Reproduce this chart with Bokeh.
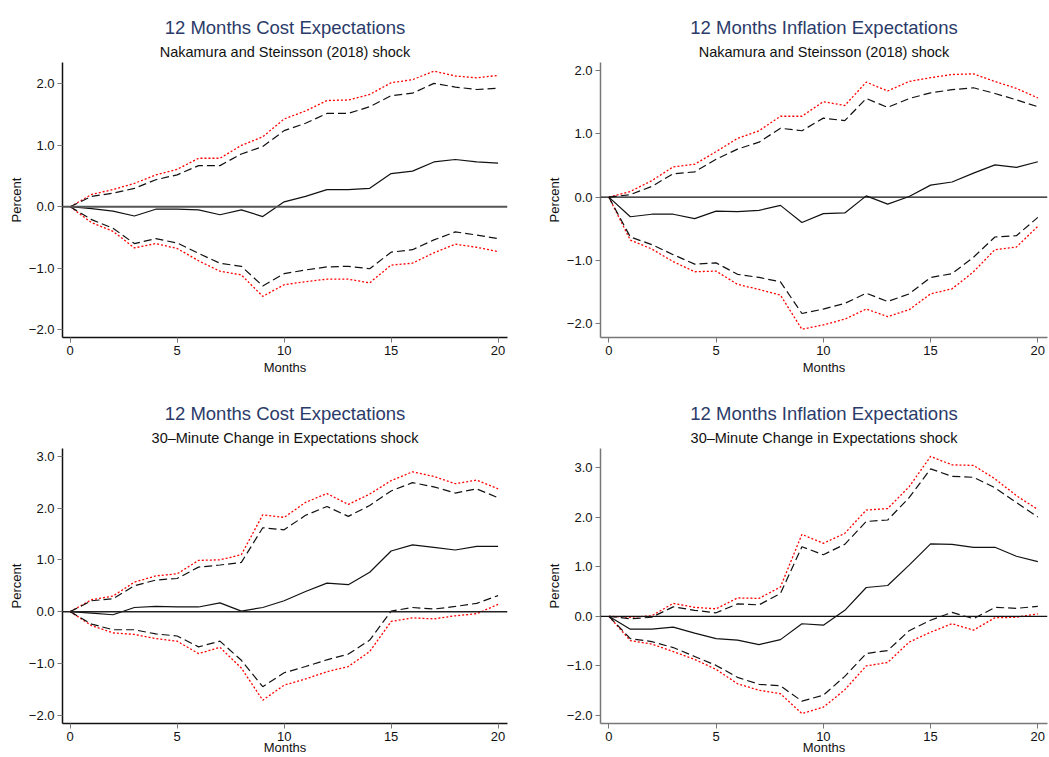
from bokeh.plotting import figure
from bokeh.layouts import gridplot
from bokeh.models import Range1d, FixedTicker, Span, Title
from bokeh.embed import file_html
from bokeh.resources import INLINE

months = list(range(21))

# --- 12 months cost expectations, Nakamura-Steinsson shock ---
cost_ns_irf = [0.0, -0.03, -0.07, -0.15, -0.04, -0.04, -0.05, -0.13, -0.05, -0.16, 0.08,
               0.17, 0.28, 0.28, 0.30, 0.54, 0.58, 0.73, 0.77, 0.73, 0.71]
cost_ns_hi68 = [0.0, 0.17, 0.22, 0.30, 0.44, 0.52, 0.67, 0.67, 0.86, 0.98, 1.24,
                1.36, 1.52, 1.52, 1.63, 1.81, 1.85, 2.01, 1.95, 1.91, 1.93]
cost_ns_lo68 = [0.0, -0.21, -0.35, -0.60, -0.52, -0.59, -0.76, -0.92, -0.97, -1.29, -1.09,
                -1.03, -0.98, -0.97, -1.01, -0.74, -0.70, -0.54, -0.41, -0.46, -0.52]
cost_ns_hi90 = [0.0, 0.20, 0.28, 0.38, 0.52, 0.61, 0.79, 0.79, 1.00, 1.14, 1.43,
                1.56, 1.73, 1.74, 1.83, 2.02, 2.07, 2.21, 2.13, 2.10, 2.14]
cost_ns_lo90 = [0.0, -0.26, -0.40, -0.67, -0.60, -0.68, -0.88, -1.05, -1.11, -1.46, -1.27,
                -1.22, -1.18, -1.18, -1.24, -0.95, -0.92, -0.75, -0.61, -0.66, -0.73]

# --- 12 months inflation expectations, Nakamura-Steinsson shock ---
infl_ns_irf = [0.0, -0.31, -0.27, -0.27, -0.34, -0.22, -0.23, -0.21, -0.13, -0.40, -0.26,
               -0.25, 0.02, -0.11, 0.01, 0.19, 0.24, 0.38, 0.51, 0.47, 0.56]
infl_ns_hi68 = [0.0, 0.04, 0.17, 0.37, 0.40, 0.60, 0.76, 0.87, 1.09, 1.05, 1.25,
                1.21, 1.56, 1.42, 1.56, 1.65, 1.70, 1.73, 1.64, 1.54, 1.43]
infl_ns_lo68 = [0.0, -0.63, -0.75, -0.91, -1.06, -1.04, -1.22, -1.27, -1.34, -1.84, -1.77,
                -1.68, -1.52, -1.65, -1.53, -1.27, -1.21, -0.95, -0.63, -0.61, -0.32]
infl_ns_hi90 = [0.0, 0.09, 0.26, 0.48, 0.52, 0.72, 0.93, 1.05, 1.28, 1.28, 1.51,
                1.45, 1.82, 1.68, 1.83, 1.89, 1.94, 1.95, 1.83, 1.72, 1.57]
infl_ns_lo90 = [0.0, -0.68, -0.82, -1.02, -1.18, -1.17, -1.38, -1.46, -1.55, -2.09, -2.02,
                -1.93, -1.77, -1.89, -1.78, -1.53, -1.45, -1.18, -0.83, -0.79, -0.46]

# --- 12 months cost expectations, 30-minute change in expectations shock ---
cost_ex_irf = [0.0, -0.03, -0.06, 0.08, 0.10, 0.09, 0.09, 0.17, 0.01, 0.08, 0.21,
               0.39, 0.55, 0.52, 0.76, 1.17, 1.29, 1.24, 1.19, 1.26, 1.26]
cost_ex_hi68 = [0.0, 0.21, 0.25, 0.50, 0.61, 0.64, 0.86, 0.90, 0.95, 1.62, 1.58,
                1.86, 2.03, 1.84, 2.05, 2.33, 2.49, 2.41, 2.29, 2.37, 2.20]
cost_ex_lo68 = [0.0, -0.24, -0.35, -0.35, -0.43, -0.47, -0.68, -0.57, -0.94, -1.45, -1.18,
                -1.06, -0.93, -0.82, -0.55, 0.01, 0.08, 0.05, 0.10, 0.16, 0.31]
cost_ex_hi90 = [0.0, 0.23, 0.30, 0.57, 0.69, 0.73, 0.99, 1.00, 1.10, 1.87, 1.82,
                2.11, 2.28, 2.07, 2.27, 2.53, 2.70, 2.61, 2.47, 2.54, 2.37]
cost_ex_lo90 = [0.0, -0.27, -0.41, -0.44, -0.52, -0.57, -0.81, -0.69, -1.09, -1.71, -1.42,
                -1.30, -1.16, -1.06, -0.77, -0.19, -0.12, -0.14, -0.08, -0.04, 0.14]

# --- 12 months inflation expectations, 30-minute change in expectations shock ---
infl_ex_irf = [0.0, -0.26, -0.26, -0.22, -0.34, -0.45, -0.48, -0.57, -0.47, -0.15, -0.18,
               0.12, 0.58, 0.62, 1.03, 1.46, 1.45, 1.39, 1.39, 1.21, 1.10]
infl_ex_hi68 = [0.0, -0.05, -0.02, 0.19, 0.12, 0.07, 0.25, 0.23, 0.46, 1.40, 1.24,
                1.45, 1.91, 1.94, 2.39, 2.97, 2.82, 2.80, 2.59, 2.29, 2.00]
infl_ex_lo68 = [0.0, -0.45, -0.51, -0.63, -0.81, -0.99, -1.23, -1.37, -1.40, -1.71, -1.59,
                -1.21, -0.75, -0.69, -0.29, -0.08, 0.08, -0.05, 0.18, 0.16, 0.20]
infl_ex_hi90 = [0.0, -0.02, 0.01, 0.26, 0.18, 0.15, 0.37, 0.36, 0.59, 1.65, 1.47,
                1.67, 2.14, 2.17, 2.61, 3.22, 3.05, 3.04, 2.77, 2.43, 2.15]
infl_ex_lo90 = [0.0, -0.49, -0.56, -0.71, -0.87, -1.07, -1.36, -1.49, -1.56, -1.96, -1.83,
                -1.48, -1.00, -0.93, -0.52, -0.32, -0.15, -0.28, -0.03, -0.02, 0.05]

x_ticks = [0, 5, 10, 15, 20]
y_ticks_ns = [-2, -1, 0, 1, 2]
y_ticks_ex = [-2, -1, 0, 1, 2, 3]

title_cost = "12 Months Cost Expectations"
title_infl = "12 Months Inflation Expectations"
sub_ns = "Nakamura and Steinsson (2018) shock"
sub_ex = "30\u2013Minute Change in Expectations shock"

FONT = "Liberation Sans"
NAVY = "#2b3b69"


def tick_text(v):
    return f"{v:.1f}".replace("-", "\u2212")


def panel(title, subtitle, irf, lo68, hi68, lo90, hi90, y_ticks,
          width, height, x_rng, y_rng, borders, spine_color, zero_color, zero_width,
          xlabel_standoff):
    left, right, top, bottom = borders
    p = figure(width=width, height=height,
               x_range=Range1d(*x_rng), y_range=Range1d(*y_rng),
               output_backend="svg", toolbar_location=None,
               min_border_left=left, min_border_right=right,
               min_border_top=top, min_border_bottom=bottom,
               background_fill_color="white", border_fill_color="white",
               outline_line_color=None)
    p.grid.visible = False

    p.add_layout(Title(text=subtitle, align="center", text_font=FONT,
                       text_font_size="14.5px", text_font_style="normal",
                       text_color="#111111", standoff=6), "above")
    p.add_layout(Title(text=title, align="center", text_font=FONT,
                       text_font_size="18.5px", text_font_style="normal",
                       text_color=NAVY, standoff=2), "above")

    p.add_layout(Span(location=0, dimension="width", line_color=zero_color,
                      line_width=zero_width))

    p.line(months, hi90, line_color="#ff0000", line_width=1.3, line_dash="2 2")
    p.line(months, lo90, line_color="#ff0000", line_width=1.3, line_dash="2 2")
    p.line(months, hi68, line_color="#111111", line_width=1.2, line_dash="8 4")
    p.line(months, lo68, line_color="#111111", line_width=1.2, line_dash="8 4")
    p.line(months, irf, line_color="#111111", line_width=1.2)

    p.xaxis.ticker = FixedTicker(ticks=x_ticks)
    p.yaxis.ticker = FixedTicker(ticks=y_ticks)
    p.yaxis.major_label_overrides = {float(t): tick_text(t) for t in y_ticks}
    p.xaxis.axis_label = "Months"
    p.yaxis.axis_label = "Percent"
    for ax in (p.xaxis, p.yaxis):
        ax.axis_line_color = spine_color
        ax.axis_line_width = 1.5
        ax.major_tick_line_color = "#777777"
        ax.major_tick_out = 5
        ax.major_tick_in = 0
        ax.minor_tick_line_color = None
        ax.major_label_text_font = FONT
        ax.major_label_text_font_size = "13px"
        ax.major_label_text_color = "#111111"
        ax.major_label_standoff = 3
        ax.axis_label_text_font = FONT
        ax.axis_label_text_font_size = "13px"
        ax.axis_label_text_font_style = "normal"
        ax.axis_label_text_color = "#111111"
        ax.axis_label_standoff = 2
    p.xaxis.axis_label_standoff = xlabel_standoff
    return p


p1 = panel(title_cost, sub_ns, cost_ns_irf, cost_ns_lo68, cost_ns_hi68, cost_ns_lo90, cost_ns_hi90,
           y_ticks_ns, 525, 380, (-0.36, 20.44), (-2.13, 2.35), (62, 18, 62, 43),
           "#111111", "#555555", 2, 2)
p2 = panel(title_infl, sub_ns, infl_ns_irf, infl_ns_lo68, infl_ns_hi68, infl_ns_lo90, infl_ns_hi90,
           y_ticks_ns, 524, 380, (-0.39, 20.45), (-2.22, 2.13), (75, 2, 62, 43),
           "#777777", "#111111", 1.2, 2)
p3 = panel(title_cost, sub_ex, cost_ex_irf, cost_ex_lo68, cost_ex_hi68, cost_ex_lo90, cost_ex_hi90,
           y_ticks_ex, 525, 377, (-0.36, 20.44), (-2.16, 3.15), (62, 18, 68, 34),
           "#111111", "#222222", 1.5, -4)
p4 = panel(title_infl, sub_ex, infl_ex_irf, infl_ex_lo68, infl_ex_hi68, infl_ex_lo90, infl_ex_hi90,
           y_ticks_ex, 524, 377, (-0.39, 20.45), (-2.16, 3.38), (75, 2, 68, 34),
           "#777777", "#111111", 1.2, -4)

grid = gridplot([[p1, p2], [p3, p4]], toolbar_location=None)

open("out.html", "w").write(file_html(grid, INLINE))
